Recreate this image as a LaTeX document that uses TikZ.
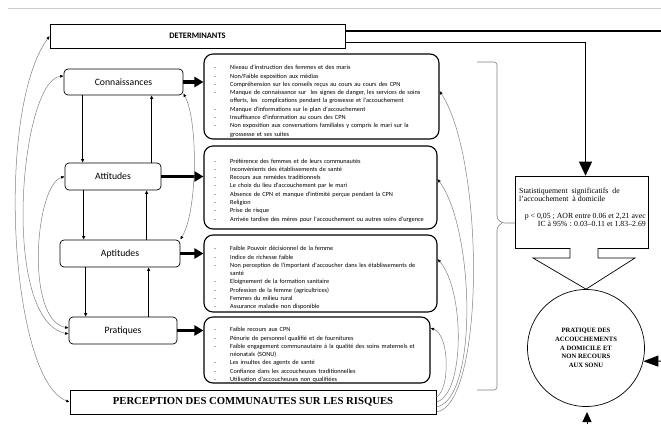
\documentclass[tikz,border=0pt]{standalone}
\usepackage{fontspec}
\setmainfont{Liberation Serif}
\newfontfamily\carl{Carlito}
\usetikzlibrary{arrows.meta}
\newcommand\li[1]{\par\hangindent=16pt\hangafter=1\noindent\makebox[16pt][l]{-}#1}
\tikzset{smtip/.tip={Latex[length=3.5pt,width=3pt,color=black]}}
\begin{document}
\begin{tikzpicture}[x=1pt,y=-1pt,
  concept/.style={draw, rounded corners=4pt, line width=0.7pt, inner sep=0,
    font=\carl\fontsize{9.7}{11}\selectfont},
  bigbox/.style={draw, line width=0.7pt, inner sep=0},
  listbox/.style={draw, rounded corners=9pt, line width=1.1pt, inner sep=0},
  listtext/.style={anchor=north west, inner sep=0, text width=215pt,
    font=\carl\fontsize{6.3}{8.3}\selectfont},
  varrow/.style={line width=1.6pt, -{Latex[length=3.5pt,width=3.5pt]}},
  harrow/.style={line width=3.2pt, -{Triangle[length=9pt,width=10pt]}},
  thin/.style={draw=gray, line width=0.5pt}
]
\useasboundingbox (0,0) rectangle (661,423);
\draw[gray!40, line width=0.4pt] (8,8) -- (661,8);

% top and bottom boxes
\node[bigbox, minimum width=295pt, minimum height=24pt, font=\carl\bfseries\fontsize{8.4}{10}\selectfont] (det) at (197.5,36) {DETERMINANTS};
\node[bigbox, minimum width=366pt, minimum height=24pt, font=\bfseries\fontsize{10.7}{12}\selectfont] (per) at (253,402) {PERCEPTION DES COMMUNAUTES SUR LES RISQUES};

% concept boxes
\node[concept, minimum width=119pt, minimum height=26pt] (con) at (123.5,82) {Connaissances};
\node[concept, minimum width=96pt, minimum height=27pt] (att) at (113,176.5) {Attitudes};
\node[concept, minimum width=120pt, minimum height=27pt] (apt) at (120,253.5) {Aptitudes};
\node[concept, minimum width=108pt, minimum height=27pt] (pra) at (123,330.5) {Pratiques};

% list boxes
\node[listbox, minimum width=235pt, minimum height=85pt] (l1) at (321.5,96.5) {};
\node[listbox, minimum width=233pt, minimum height=83pt] (l2) at (320.5,187.5) {};
\node[listbox, minimum width=233pt, minimum height=77pt] (l3) at (320.5,273.5) {};
\node[listbox, minimum width=226pt, minimum height=66pt] (l4) at (317,350) {};

\node[listtext] (t1) at (214,61.2) {%
\li{Niveau d'instruction des femmes et des maris}
\li{Non/Faible exposition aux médias}
\li{Compréhension sur les conseils reçus au cours au cours des CPN}
\li{Manque de connaissance sur\ \ les signes de danger, les services de soins\newline offerts, les\ \ complications pendant la grossesse et l'accouchement}
\li{Manque d'informations sur le plan d'accouchement}
\li{Insuffisance d'information au cours des CPN}
\li{Non exposition aux conversations familiales y compris le mari sur la\newline grossesse et ses suites}\par};

\node[listtext] (t2) at (214,154.5) {%
\li{Préférence des femmes et de leurs communautés}
\li{Inconvénients des établissements de santé}
\li{Recours aux remèdes traditionnels}
\li{Le choix du lieu d'accouchement par le mari}
\li{Absence de CPN et manque d'intimité perçue pendant la CPN}
\li{Religion}
\li{Prise de risque}
\li{Arrivée tardive des mères pour l'accouchement ou autres soins d'urgence}\par};

\node[listtext] (t3) at (214,242.2) {%
\li{Faible Pouvoir décisionnel de la femme}
\li{Indice de richesse faible}
\li{Non perception de l'important d'accoucher dans les établissements de\newline santé}
\li{Eloignement de la formation sanitaire}
\li{Profession de la femme (agricultrices)}
\li{Femmes du milieu rural}
\li{Assurance maladie non disponible}\par};

\node[listtext] (t4) at (214,323.2) {%
\li{Faible recours aux CPN}
\li{Pénurie de personnel qualifié et de fournitures}
\li{Faible engagement communautaire à la qualité des soins maternels et\newline néonatals (SONU)}
\li{Les insultes des agents de santé}
\li{Confiance dans les accoucheuses traditionnelles}
\li{Utilisation d'accoucheuses non qualifiées}\par};

% vertical arrows between concepts
\draw[varrow] ([xshift=19pt]con.south west) -- ([xshift=18pt]att.north west);
\draw[varrow] ([xshift=87pt]att.north west) -- ([xshift=88pt]con.south west);
\draw[varrow] ([xshift=19pt]att.south west) -- ([xshift=24pt]apt.north west);
\draw[varrow] ([xshift=87pt]apt.north west) -- ([xshift=82pt]att.south west);
\draw[varrow] ([xshift=26pt]apt.south west) -- ([xshift=17pt]pra.north west);
\draw[varrow] ([xshift=80pt]pra.north west) -- ([xshift=89pt]apt.south west);

% thick arrows to lists
\draw[harrow] (con.east) -- (con.east -| l1.west);
\draw[harrow] (att.east) -- (att.east -| l2.west);
\draw[harrow] (apt.east) -- (apt.east -| l3.west);
\draw[harrow] (pra.east) -- (pra.east -| l4.west);

% thin curves left
\draw[thin, smtip-smtip] (per.west) .. controls (10,380) and (-5,110) .. (det.west);
\draw[thin, smtip-smtip] ([yshift=6pt]con.west) .. controls (20,80) and (0,320) .. ([yshift=-3.5pt]pra.west);
\draw[thin, smtip-smtip] (att.west) .. controls (35,185) and (25,320) .. ([yshift=2.5pt]pra.west);
\draw[thin, smtip-smtip] ([yshift=2pt]con.south east) .. controls (198,120) and (198,210) .. (apt.north east);

% thin curves right
\draw[thin, -smtip] ([yshift=5pt]per.east) .. controls (450,390) and (450,335) .. ([yshift=22pt]l4.east);
\draw[thin, -smtip] (per.east) .. controls (465,395) and (465,290) .. ([yshift=14.5pt]l3.east);
\draw[thin, -smtip] ([yshift=-5pt]per.east) .. controls (478,400) and (475,230) .. ([yshift=8.5pt]l2.east);
\draw[thin, -smtip] ([yshift=-10pt]per.east) .. controls (485,405) and (485,160) .. ([yshift=5.5pt]l1.east);

% statistics box
\node[draw, line width=0.7pt, minimum width=133pt, minimum height=72pt, inner sep=0] (stat) at (581.5,212) {};
\node[anchor=north west, inner sep=0, align=left, font=\fontsize{7.8}{8.8}\selectfont] (sa) at (519,187.5) {Statistiquement\ \ significatifs\ \ de\\ l'accouchement\ \ à domicile};
\node[anchor=north east, inner sep=0, align=right, font=\fontsize{7.8}{8}\selectfont] (sb) at (646,213) {p < 0,05 ; AOR entre 0.06 et 2,21 avec\\ IC à 95\% : 0.03–0.11 et 1.83–2.69};

% brace
\draw[gray, line width=0.6pt, rounded corners=3pt] (477,62) -- (497,62) -- (497,219) -- (502,223) -- (515,223);
\draw[gray, line width=0.6pt, rounded corners=3pt] (502,223) -- (497,227) -- (497,390) -- (477,390);

% determinants connectors
\coordinate (rtop) at (661,31);
\draw[line width=2pt] ([yshift=5pt]det.east) -- (rtop);
\draw[line width=0.7pt, -{Triangle[length=14pt,width=13pt]}] ([yshift=-6pt]det.east) -| ([xshift=4pt]stat.north);

% circle
\node[draw, circle, line width=0.7pt, minimum size=117pt, inner sep=0, align=center,
  font=\bfseries\fontsize{6.6}{8.7}\selectfont] (circ) at (586,348)
  {PRATIQUE DES\\ ACCOUCHEMENTS\\ A DOMICILE ET\\ NON RECOURS\\ AUX SONU};

% hollow block arrow
\draw[line width=0.7pt, fill=white] (570,248) -- (570,258) -- (533,258) -- (circ.north) -- (635,258) -- (598,258) -- (598,248);

% arrows from right and bottom
\coordinate (rin) at (668,361);
\coordinate (bin) at (587,430);
\draw[line width=1pt, -{Triangle[length=15pt,width=11pt]}] (rin) -- (circ.-13);
\draw[line width=1pt, -{Triangle[length=10pt,width=9pt]}] (bin) -- (587,412);
\end{tikzpicture}
\end{document}
